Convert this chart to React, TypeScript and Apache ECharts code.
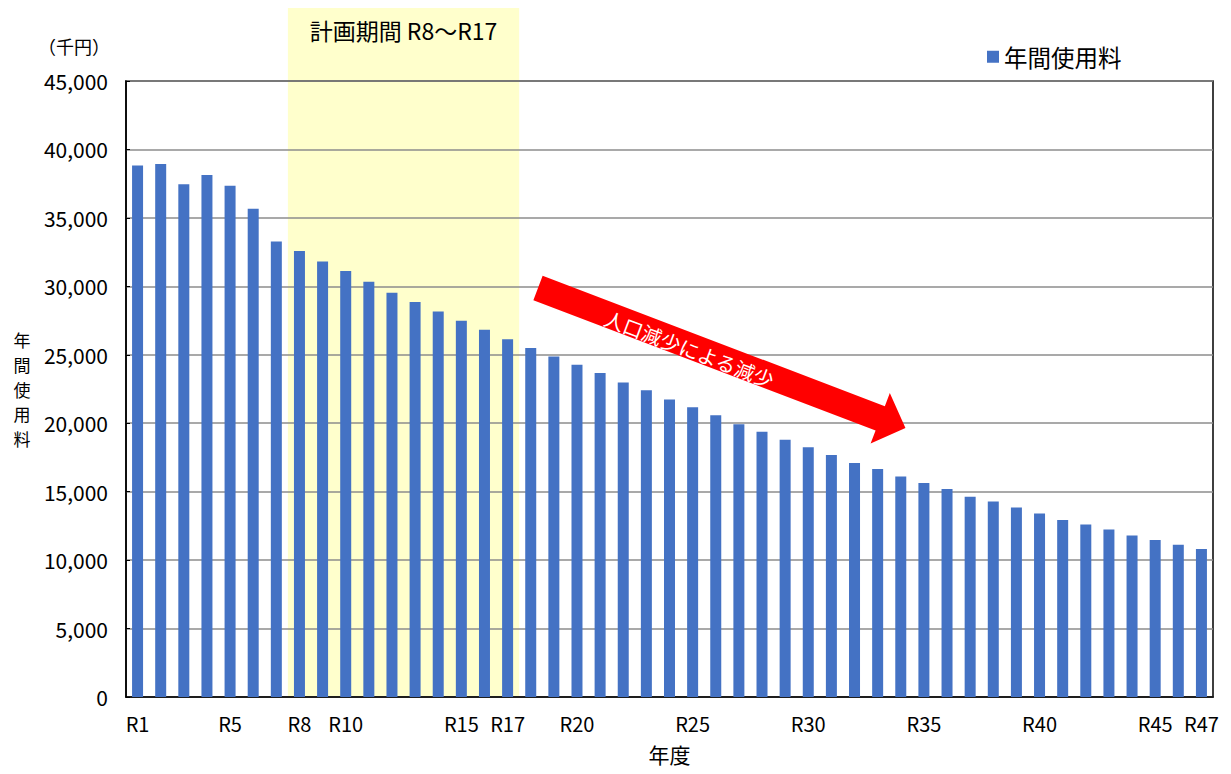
import React, { useEffect, useRef } from "react";
import * as echarts from "echarts";

const categories: string[] = Array.from({ length: 47 }, (_, i) => `R${i + 1}`);
const annualFee: number[] = [
  38830, 38930, 37460, 38140, 37340, 35660, 33270, 32580, 31810, 31120,
  30340, 29540, 28850, 28170, 27490, 26830, 26140, 25490, 24880, 24270,
  23660, 22980, 22410, 21730, 21170, 20580, 19930, 19370, 18800, 18240,
  17680, 17100, 16660, 16100, 15640, 15200, 14630, 14290, 13850, 13410,
  12930, 12610, 12240, 11800, 11470, 11120, 10810,
];
const shownLabels: string[] = ["R1", "R5", "R8", "R10", "R15", "R17", "R20", "R25", "R30", "R35", "R40", "R45", "R47"];
const planStart = "R8";
const planEnd = "R17";
const seriesName = "年間使用料";
const yAxisTitleChars: string[] = ["年", "間", "使", "用", "料"];
const planTitle = "計画期間 R8～R17";
const arrowText = "人口減少による減少";
const FONT = '"Noto Sans CJK JP", "Noto Sans", sans-serif';

export default function App() {
  const ref = useRef<HTMLDivElement>(null);
  useEffect(() => {
    document.body.style.margin = "0";
    const chart = echarts.init(ref.current!, undefined, { renderer: "svg" });
    chart.setOption({
      animation: false,
      textStyle: { fontFamily: FONT, color: "#000" },
      grid: { left: 126, right: 18, top: 81, bottom: 77, show: true, borderColor: "#000", borderWidth: 1.5, containLabel: false },
      legend: {
        data: [seriesName],
        left: 982,
        top: 40,
        icon: "rect",
        itemWidth: 12,
        itemHeight: 12,
        itemGap: 6,
        textStyle: { fontSize: 23.5, color: "#000", fontFamily: FONT },
      },
      xAxis: {
        type: "category",
        data: categories,
        name: "年度",
        nameLocation: "middle",
        nameGap: 46,
        nameTextStyle: { fontSize: 21, color: "#000", fontFamily: FONT },
        axisLine: { lineStyle: { color: "#000", width: 1.5 } },
        axisTick: { show: false },
        axisLabel: {
          interval: (idx: number, val: string) => shownLabels.includes(val),
          fontSize: 20,
          color: "#000",
          margin: 16,
          fontFamily: FONT,
        },
      },
      yAxis: {
        type: "value",
        min: 0,
        max: 45000,
        interval: 5000,
        axisLine: { show: true, lineStyle: { color: "#000", width: 1.5 } },
        axisTick: { show: true, inside: true, length: 4, lineStyle: { color: "#000" } },
        axisLabel: {
          fontSize: 21,
          color: "#000",
          margin: 18,
          fontFamily: FONT,
          formatter: (v: number) => v.toLocaleString("en-US"),
        },
        splitLine: { lineStyle: { color: "#8c8c8c", width: 1.5 } },
      },
      series: [
        {
          name: seriesName,
          type: "bar",
          data: annualFee,
          barWidth: 11,
          itemStyle: { color: "#4472C4" },
          z: 3,
        },
      ],
    });

    const xa = chart.convertToPixel({ xAxisIndex: 0 }, planStart) as number;
    const xb = chart.convertToPixel({ xAxisIndex: 0 }, planEnd) as number;
    const x1 = chart.convertToPixel({ xAxisIndex: 0 }, categories[0]) as number;
    const x2 = chart.convertToPixel({ xAxisIndex: 0 }, categories[1]) as number;
    const band = x2 - x1;
    const y0 = chart.convertToPixel({ yAxisIndex: 0 }, 0) as number;
    const yTop = chart.convertToPixel({ yAxisIndex: 0 }, 45000) as number;
    const rx = xa - band / 2;
    const rw = xb - xa + band;
    const yMid = (y0 + yTop) / 2;

    const L = 393;
    const headLen = 27;
    const hw = 13;
    const hh = 27;
    const ang = Math.atan2(140, 368);

    const nameTexts = yAxisTitleChars.map((c, i) => ({
      type: "text",
      x: 22,
      y: yMid + (i - (yAxisTitleChars.length - 1) / 2) * 24.8,
      style: { text: c, fontSize: 17, fontFamily: FONT, fill: "#000", align: "center", verticalAlign: "middle" },
    }));

    chart.setOption({
      graphic: [
        {
          type: "rect",
          z: -10,
          silent: true,
          shape: { x: rx, y: 8, width: rw, height: y0 - 8 },
          style: { fill: "#FFFFCC" },
        },
        {
          type: "text",
          x: rx + rw / 2,
          y: 30,
          style: { text: planTitle, fontSize: 23, fontFamily: FONT, fill: "#000", align: "center", verticalAlign: "middle" },
        },
        {
          type: "text",
          x: 74,
          y: 46,
          style: { text: "（千円）", fontSize: 18, fontFamily: FONT, fill: "#000", align: "center", verticalAlign: "middle" },
        },
        ...nameTexts,
        {
          type: "group",
          x: 538,
          y: 288,
          rotation: -ang,
          z: 20,
          children: [
            {
              type: "polygon",
              shape: {
                points: [
                  [0, -hw], [L - headLen, -hw], [L - headLen, -hh], [L, 0],
                  [L - headLen, hh], [L - headLen, hw], [0, hw],
                ],
              },
              style: { fill: "#FF0000" },
            },
            {
              type: "text",
              x: 163,
              y: 3,
              style: { text: arrowText, fontSize: 20, fontFamily: FONT, fill: "#fff", align: "center", verticalAlign: "middle" },
            },
          ],
        },
      ],
    });

    return () => chart.dispose();
  }, []);
  return <div ref={ref} style={{ width: 1231, height: 774 }} />;
}
